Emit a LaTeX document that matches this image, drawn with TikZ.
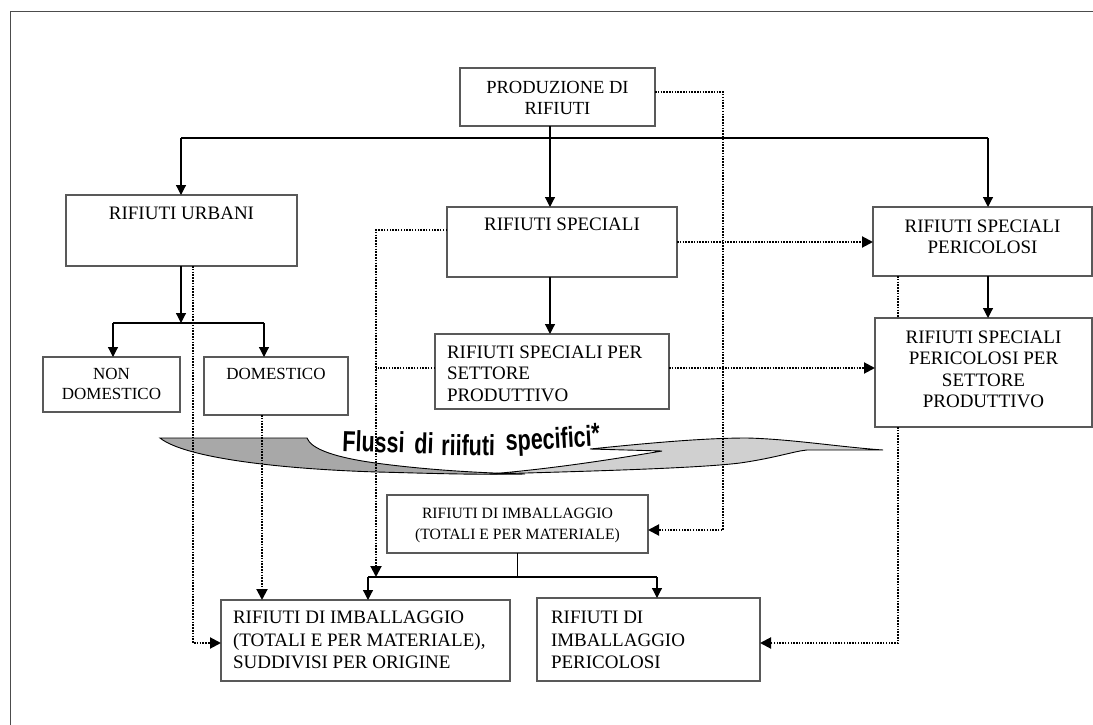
\documentclass[tikz,border=0pt]{standalone}
\usepackage{fontspec}
\usepackage{graphicx}
\setmainfont{Liberation Serif}
\newfontfamily\swfont{Liberation Sans}
\usetikzlibrary{arrows.meta}

% box content: width, height, top pad, font size, line skip, text (centred)
\newcommand\bxc[6]{\parbox[c][#2pt][t]{#1pt}{\vspace*{#3pt}\fontsize{#4}{#5}\selectfont\centering\strut #6}}
% same, left aligned with an indent
\newcommand\bxl[7]{\parbox[c][#2pt][t]{#1pt}{\vspace*{#3pt}\fontsize{#4}{#5}\selectfont\raggedright\leftskip=#6pt\strut #7}}
% bold, tall lettering of the ribbon
\newcommand\swword[1]{\scalebox{1}[1.35]{\swfont\bfseries\fontsize{21.5}{21.5}\selectfont #1}}

\definecolor{swdark}{RGB}{168,168,168}
\definecolor{swlight}{RGB}{208,208,208}

\tikzset{
  box/.style={draw=black!65, line width=1.2pt, fill=white, inner sep=0pt, outer sep=0pt},
  lin/.style={draw=black, line width=1.2pt},
  arrs/.style={lin, -{Triangle[length=10pt,width=10pt]}},
  dotl/.style={draw=black, line width=2pt, dash pattern=on 1.5pt off 1.3pt,
               -{Triangle[length=11pt,width=11pt]}},
  dotn/.style={draw=black, line width=2pt, dash pattern=on 1.5pt off 1.3pt},
  swt/.style={inner sep=0pt, anchor=base west},
  frame/.style={draw=black!70, line width=1pt}
}

\begin{document}
\begin{tikzpicture}[x=1pt, y=-1pt]
\useasboundingbox (0,0) rectangle (1093,725);

% page frame
\draw[frame] (10,725) -- (10,12) -- (1093,12);

% ribbon "Flussi di rifiuti specifici"
\filldraw[fill=swdark, draw=black, line width=0.9pt]
  (160,438) -- (307,438)
  .. controls (311,449) and (335,458) .. (383,464)
  .. controls (430,470) and (480,473) .. (525,474)
  .. controls (470,475) and (420,473) .. (377,472)
  .. controls (280,469) and (185,458) .. (160,438) -- cycle;
\filldraw[fill=swlight, draw=black, line width=0.9pt]
  (490,474) .. controls (600,471) and (700,468) .. (740,463)
  .. controls (775,458) and (795,451) .. (807,450) -- (883,450)
  .. controls (840,447) and (790,439) .. (747,438)
  .. controls (700,438) and (640,444) .. (590,449) -- (662,451)
  .. controls (620,458) and (560,468) .. (490,474) -- cycle;

% boxes
\node[box] (prod) at (557.5,97) {\bxc{195}{58}{12}{18.5}{20}{PRODUZIONE DI\\RIFIUTI}};
\node[box] (urb) at (181.5,230.5) {\bxc{231}{71}{9}{19}{21.5}{RIFIUTI URBANI}};
\node[box] (spec) at (562,242) {\bxc{230}{70}{8}{19}{21.5}{RIFIUTI SPECIALI}};
\node[box] (per) at (982.5,241.5) {\bxc{219}{69}{11}{19}{21}{RIFIUTI SPECIALI\\PERICOLOSI}};
\node[box] (nondom) at (111.5,384.5) {\bxc{137}{55}{8}{17}{20}{NON\\DOMESTICO}};
\node[box] (dom) at (276,386) {\bxc{144}{58}{8}{17}{20}{DOMESTICO}};
\node[box] (specsett) at (552,371.5) {\bxl{234}{75}{9}{19}{21.5}{12}{RIFIUTI SPECIALI PER\\SETTORE\\PRODUTTIVO}};
\node[box] (persett) at (983.5,372.5) {\bxc{217}{109}{10}{19}{21.5}{RIFIUTI SPECIALI\\PERICOLOSI PER\\SETTORE\\PRODUTTIVO}};
\node[box] (imb) at (517.5,524) {\bxc{261}{58}{8.3}{15.7}{21}{RIFIUTI DI IMBALLAGGIO\\(TOTALI E PER MATERIALE)}};
\node[box] (orig) at (365.5,640.5) {\bxl{289}{81}{8}{19}{22.5}{12}{RIFIUTI DI IMBALLAGGIO\\(TOTALI E PER MATERIALE),\\SUDDIVISI PER ORIGINE}};
\node[box] (imbper) at (648.5,639.5) {\bxl{223}{83}{10}{19}{22.5}{14}{RIFIUTI DI\\IMBALLAGGIO\\PERICOLOSI}};

% junction points
\coordinate (xs) at (550,138);
\coordinate (bL) at (181,138);
\coordinate (bR) at (988,138);
\coordinate (ub) at (181,323);
\coordinate (ubL) at (113,323);
\coordinate (ubR) at (264,323);
\coordinate (ib) at (517.5,577);
\coordinate (ibL) at (368,577);
\coordinate (ibR) at (657,577);
\coordinate (r1) at (723,92);
\coordinate (r2) at (723,530);
\coordinate (l1) at (376,230);
\coordinate (l2) at (376,577);
\coordinate (l3) at (376,368);
\coordinate (u1) at (193,643);
\coordinate (d1) at (262,600);
\coordinate (p1) at (898,643);

% solid flow
\draw[arrs] (prod.south -| xs) -- (spec.north -| xs);
\draw[lin] (bL) -- (bR);
\draw[arrs] (bL) -- (urb.north -| bL);
\draw[arrs] (bR) -- (per.north -| bR);
\draw[arrs] (urb.south -| ub) -- (ub);
\draw[lin] (ubL) -- (ubR);
\draw[arrs] (ubL) -- (nondom.north -| ubL);
\draw[arrs] (ubR) -- (dom.north -| ubR);
\draw[arrs] (spec.south -| xs) -- (specsett.north -| xs);
\draw[arrs] (per.south -| bR) -- (persett.north -| bR);
\draw[lin] (imb.south) -- (ib);
\draw[lin] (ibL) -- (ibR);
\draw[arrs] (ibL) -- (orig.north -| ibL);
\draw[arrs] (ibR) -- (imbper.north -| ibR);

% dotted flow
\draw[dotl] (prod.east |- r1) -- (r1) -- (r2) -- (imb.east |- r2);
\draw[dotl] (spec.west |- l1) -- (l1) -- (l2);
\draw[dotn] (specsett.west |- l3) -- (l3);
\draw[dotl] (spec.east) -- (per.west |- spec.east);
\draw[dotl] (specsett.east |- l3) -- (persett.west |- l3);
\draw[dotl] (urb.south -| u1) -- (u1) -- (orig.west |- u1);
\draw[dotl] (dom.south -| d1) -- (orig.north -| d1);
\draw[dotn] (per.south -| p1) -- (persett.north -| p1);
\draw[dotl] (persett.south -| p1) -- (p1) -- (imbper.east |- p1);

% ribbon lettering
\node[swt, rotate=-2] (w1) at (342,451) {\swword{Flussi}};
\node[swt, rotate=-2] (w2) at (414,453) {\swword{di}};
\node[swt, rotate=-1] (w3) at (441,455) {\swword{riifuti}};
\node[swt, rotate=3] (w4) at (506,451) {\swword{specifici\raisebox{2pt}{*}}};
\end{tikzpicture}
\end{document}
